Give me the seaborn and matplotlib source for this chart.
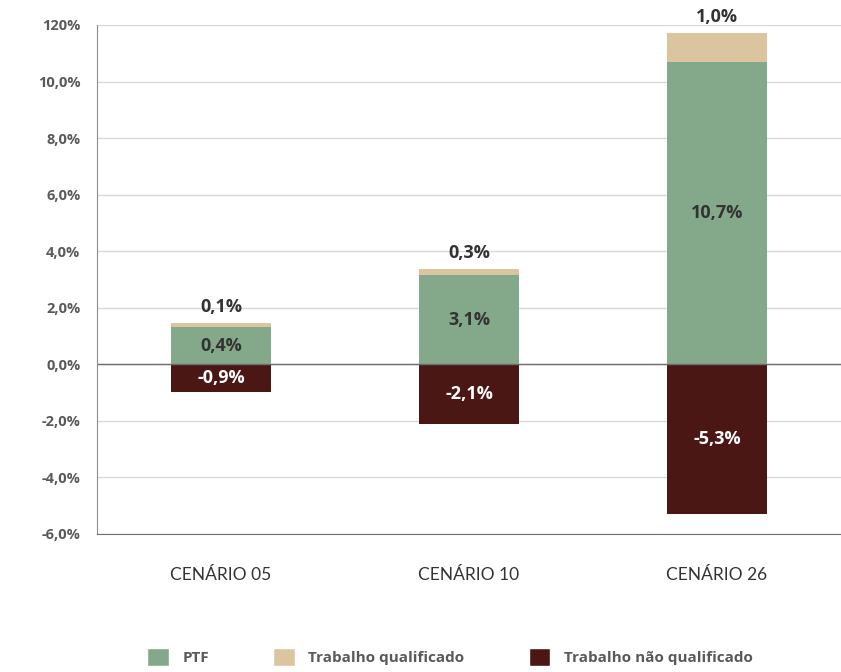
import pandas as pd
import matplotlib
matplotlib.use("Agg")
import matplotlib.pyplot as plt
from matplotlib.patches import Patch
import seaborn as sns

# Data
cenarios = ["CENÁRIO 05", "CENÁRIO 10", "CENÁRIO 26"]
ptf = [1.32, 3.15, 10.7]
trab_qualificado = [0.14, 0.22, 1.02]
trab_nao_qualificado = [-0.97, -2.1, -5.3]

ptf_labels = ["0,4%", "3,1%", "10,7%"]
qual_labels = ["0,1%", "0,3%", "1,0%"]
nao_qual_labels = ["-0,9%", "-2,1%", "-5,3%"]

yticks = [-6, -4, -2, 0, 2, 4, 6, 8, 10, 12]
ytick_labels = ["-6,0%", "-4,0%", "-2,0%", "0,0%", "2,0%", "4,0%", "6,0%", "8,0%", "10,0%", "120%"]

GREEN = "#84a98a"
TAN = "#dac59e"
DARK = "#4a1715"
BOLD_FONT = ['Open Sans', 'DejaVu Sans']

sns.set_style("white")
plt.rcParams['font.family'] = ['Lato', 'DejaVu Sans']

df = pd.DataFrame({
    "cenario": cenarios,
    "ptf": ptf,
    "qual": trab_qualificado,
    "nao_qual": trab_nao_qualificado,
})
df["topo"] = df["ptf"] + df["qual"]

fig = plt.figure(figsize=(8.41, 6.72), dpi=100)
ax = fig.add_axes([0.1153, 0.2054, 0.8847, 0.7574])

# stacked by drawing the total first, then the lower segment over it
for col, cor in [("topo", TAN), ("ptf", GREEN), ("nao_qual", DARK)]:
    sns.barplot(data=df, x="cenario", y=col, color=cor, width=0.4, saturation=1,
                linewidth=0, ax=ax)

for i in range(len(cenarios)):
    ax.text(i, df["topo"][i] + 0.55, qual_labels[i], ha="center", va="center",
            fontsize=13, fontweight="bold", color="#333333", family=BOLD_FONT)
    ax.text(i, df["ptf"][i] / 2, ptf_labels[i], ha="center", va="center",
            fontsize=13, fontweight="bold", color="#333333", family=BOLD_FONT)
    ax.text(i, df["nao_qual"][i] / 2, nao_qual_labels[i], ha="center", va="center",
            fontsize=13, fontweight="bold", color="white", family=BOLD_FONT)

ax.set_xlim(-0.5, 2.5)
ax.set_ylim(-6, 12)
ax.set_yticks(yticks)
ax.set_yticklabels(ytick_labels)
ax.set_xlabel("")
ax.set_ylabel("")
ax.yaxis.grid(True, color="#d9d9d9", linewidth=1)
ax.set_axisbelow(True)
ax.axhline(0, color="#6e6e6e", linewidth=1, zorder=1)

for side in ["top", "right"]:
    ax.spines[side].set_visible(False)
ax.spines["left"].set_color("#8c8c8c")
ax.spines["bottom"].set_color("#6e6e6e")

ax.tick_params(axis="y", length=0, pad=12, labelsize=10.5, labelcolor="#595959")
for lbl in ax.get_yticklabels():
    lbl.set_fontweight("bold")
    lbl.set_family(BOLD_FONT)
ax.tick_params(axis="x", length=0, pad=24, labelsize=12.5, labelcolor="#333333")

handles = [
    Patch(facecolor=GREEN, label="PTF"),
    Patch(facecolor=TAN, label="Trabalho qualificado"),
    Patch(facecolor=DARK, label="Trabalho não qualificado"),
]
leg = fig.legend(handles=handles, loc="center", bbox_to_anchor=(0.535, 0.022), ncol=3,
                 frameon=False, handlelength=1.4, handleheight=1.4, columnspacing=4.2,
                 handletextpad=0.9, prop={"size": 11, "weight": "bold", "family": BOLD_FONT})
for t in leg.get_texts():
    t.set_color("#595959")

fig.savefig("out.png", dpi=100)
